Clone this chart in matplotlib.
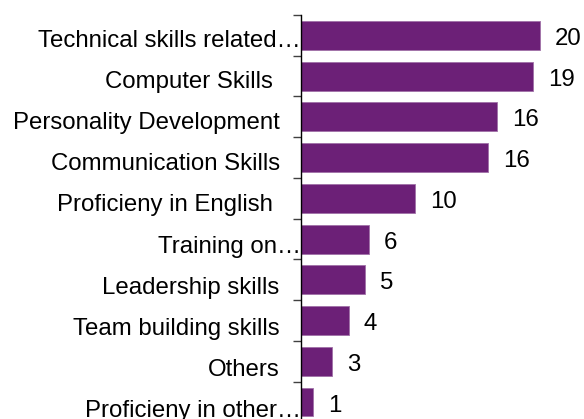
import numpy as np
import matplotlib.pyplot as plt
from matplotlib.transforms import offset_copy

plt.rcParams['font.family'] = ['Liberation Sans', 'DejaVu Sans']

categories = [
    "Technical skills related\u2026",
    "Computer Skills ",
    "Personality Development",
    "Communication Skills",
    "Proficieny in English ",
    "Training on\u2026",
    "Leadership skills",
    "Team building skills",
    "Others",
    "Proficieny in other\u2026",
]
values = [20.0, 19.4, 16.4, 15.7, 9.6, 5.7, 5.4, 4.0, 2.6, 1.0]

BAR_COLOR = '#6c2077'
FONT = 17.3

fig = plt.figure(figsize=(5.84, 4.19), dpi=100)
ax = fig.add_axes([300.7 / 584, -3.4 / 419, 275 / 584, 407.4 / 419])

y = np.arange(len(categories))
ax.barh(y, values, height=0.71, color=BAR_COLOR, edgecolor='#a070a8', linewidth=0.6)
ax.set_ylim(len(categories) - 0.5, -0.5)
ax.set_xlim(0, 23)

# value labels to the right of each bar
for yi, v in zip(y, values):
    ax.text(v, yi, f"{v:.0f}", va='center', ha='left', fontsize=FONT,
            transform=offset_copy(ax.transData, fig=fig, x=15, y=-3.5, units='dots'))

# category labels; truncated ones run right up to the axis
for yi, name in zip(y, categories):
    gap = 0 if name.endswith('\u2026') else -21
    tr = offset_copy(ax.get_yaxis_transform(), fig=fig, x=gap,
                     y=-5.5 - 0.4 * yi, units='dots')
    ax.text(0, yi, name, va='center', ha='right', fontsize=FONT, transform=tr)

ax.set_yticks([])
ax.set_yticks(np.arange(len(categories) + 1) - 0.5, minor=True)
ax.tick_params(axis='y', which='minor', length=6, width=1, color='#404040', direction='out')
ax.set_xticks([])
for s in ['top', 'right', 'bottom']:
    ax.spines[s].set_visible(False)
ax.spines['left'].set_linewidth(1)
ax.spines['left'].set_color('black')

fig.savefig('out.png', dpi=100)
